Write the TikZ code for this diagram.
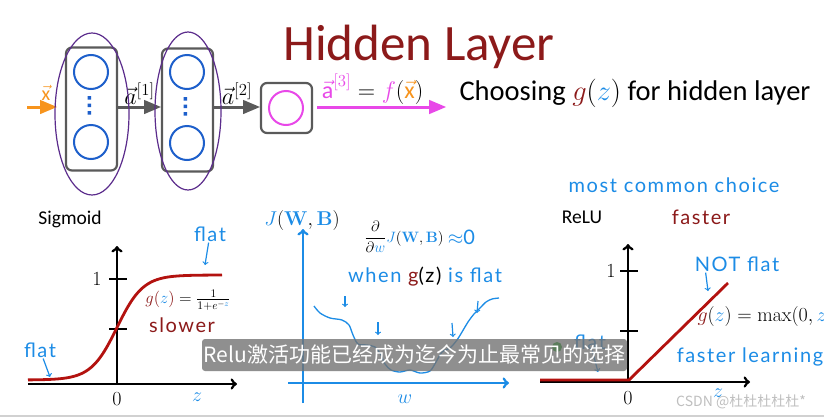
\RequirePackage{fix-cm}
\documentclass[tikz,border=0pt]{standalone}
\usepackage{amsmath}
\usepackage[no-math]{fontspec}
\setmainfont{Carlito}
\setsansfont{Carlito}
\newfontfamily\cjk{Noto Sans CJK SC}
\newfontfamily\handfont[LetterSpace=8]{Lato}
\usetikzlibrary{arrows, shapes, positioning}

\definecolor{titlered}{HTML}{8C1A1A}
\definecolor{inkblue}{HTML}{1C8CE6}
\definecolor{unitblue}{HTML}{1D5FCB}
\definecolor{boxgray}{HTML}{5A5A5A}
\definecolor{outpink}{HTML}{E848E8}
\definecolor{inorange}{HTML}{F7941D}
\definecolor{lassopurple}{HTML}{5B2C8C}
\definecolor{curvered}{HTML}{B3120F}

\tikzset{
	layerbox/.style={draw=boxgray, line width=2.2pt, rounded corners=6pt, minimum width=51pt, minimum height=123pt},
	neuron/.style={circle, draw=unitblue, line width=2pt, minimum size=34pt, inner sep=0pt},
	netarrow/.style={-triangle 45, draw=boxgray, line width=3pt},
	lassoline/.style={draw=lassopurple, line width=1.2pt},
	axisline/.style={->, line width=2.8pt},
	tickmark/.style={line width=2.8pt},
	redcurve/.style={draw=curvered, line width=2.8pt},
	handnote/.style={text=inkblue, font=\handfont\fontsize{20}{20}\selectfont, inner sep=1pt},
	pointer/.style={->, draw=inkblue, line width=1.2pt},
	scribble/.style={draw=inkblue, line width=1.3pt},
	mathlabel/.style={font=\fontsize{20}{20}\selectfont},
	veclabel/.style={font=\fontsize{24}{24}\selectfont, inner sep=1pt},
}

\begin{document}
\begin{tikzpicture}[x=1pt, y=-1pt]
		\useasboundingbox (0,0) rectangle (824,418);
		\clip (0,0) rectangle (824,418);
		\fill[white] (0,0) rectangle (824,418);
		\draw[black!18, line width=2pt] (0,416) -- (824,416);

		% title
		\node[anchor=base, text=titlered, font=\fontsize{51}{56}\selectfont, inner sep=0pt] (title) at (419,60) {Hidden Layer};
		\node[anchor=base west, font=\fontsize{28.5}{30}\selectfont] (choose) at (456,100)
			{Choosing $\textcolor{titlered}{g}(\textcolor{inkblue}{z})$ for hidden layer};

		% network
		\node[layerbox] (layer1) at (91.5,109) {};
		\node[layerbox] (layer2) at (187.5,110) {};
		\node[layerbox, minimum height=50pt] (layer3) at (286.5,108) {};
		\node[neuron] (n11) at (91,72) {};
		\node[neuron] (n12) at (91,142) {};
		\node[neuron] (n21) at (187,72) {};
		\node[neuron] (n22) at (187,143) {};
		\node[neuron, draw=outpink] (n31) at (286,108) {};
		\fill[unitblue] (87.5,96) rectangle +(3.5,3.5) (87.5,103.5) rectangle +(3.5,3.5) (87.5,111) rectangle +(3.5,3.5);
		\fill[unitblue] (183.5,97) rectangle +(3.5,3.5) (183.5,104.5) rectangle +(3.5,3.5) (183.5,112) rectangle +(3.5,3.5);
		\coordinate (xin) at (27,107);
		\coordinate (aout) at (446,107);
		\draw[netarrow, draw=inorange, shorten >=8pt] (xin) -- node[above=2pt, text=inorange, font=\fontsize{20}{20}\selectfont] {$\vec{\text{x}}$} (layer1.west |- xin);
		\draw[netarrow] (layer1.east |- xin) -- node[above, veclabel] {$\vec{a}^{[1]}$} (layer2.west |- xin);
		\draw[netarrow] (layer2.east |- xin) -- node[above, veclabel] {$\vec{a}^{[2]}$} (layer3.west |- xin);
		\draw[netarrow, draw=outpink, shorten <=4pt] (layer3.east |- xin) -- node[above, xshift=-7pt, veclabel]
			{$\textcolor{outpink}{\vec{\text{a}}^{[3]}} = \textcolor{outpink}{f}(\textcolor{inorange}{\vec{\text{x}}})$} (aout);
		\draw[lassoline] (92,114) ellipse (37 and 81);
		\draw[lassoline] (188,111) ellipse (33 and 79);

		% sigmoid
		\node[font=\fontsize{19.5}{20}\selectfont] (signame) at (70,219) {Sigmoid};
		\coordinate (sO) at (117,384);
		\coordinate (sL) at (28,384);
		\coordinate (sR) at (237,384);
		\coordinate (sT) at (117,246);
		\draw[axisline] (sL) -- (sR);
		\draw[axisline] (sO) -- (sT);
		\draw[tickmark] (109,279) -- (127,279);
		\draw[tickmark] (109,329) -- (127,329);
		\node[mathlabel] (sone) at (97,279) {$1$};
		\node[mathlabel] (szero) at (117,399) {$0$};
		\node[mathlabel, text=inkblue] (sz) at (197,397) {$z$};
		\draw[redcurve] plot[domain=28:222, samples=90, smooth] (\x, {380-105/(1+exp(-(\x-117)/13))});
		\node[font=\fontsize{16.5}{16.5}\selectfont] (sform) at (188,300)
			{$\textcolor{titlered}{g(}\textcolor{inkblue}{z}\textcolor{titlered}{)} = \frac{1}{1+e^{-\textcolor{inkblue}{z}}}$};
		\node[handnote, text=titlered] (slower) at (182,325) {slower};
		\node[handnote] (flatA) at (210,234) {flat};
		\coordinate (flatAtip) at (205,265);
		\draw[pointer] (flatA) -- (flatAtip);
		\node[handnote] (flatB) at (40,350) {flat};
		\coordinate (flatBtip) at (50,377);
		\draw[pointer] (flatB) -- (flatBtip);

		% cost surface
		\node[font=\fontsize{20}{20}\selectfont] (jname) at (302,220)
			{$\textcolor{inkblue}{J}(\textcolor{inkblue}{\mathbf{W}},\textcolor{inkblue}{\mathbf{B}})$};
		\coordinate (jB) at (303,403);
		\coordinate (jT) at (303,229);
		\coordinate (jL) at (288,383);
		\coordinate (jR) at (509,383);
		\draw[axisline, draw=inkblue] (jB) -- (jT);
		\draw[axisline, draw=inkblue] (jL) -- (jR);
		\node[mathlabel, text=inkblue] (wname) at (405,399) {$w$};
		\node[font=\fontsize{15}{15}\selectfont, inner sep=1pt] (dJ) at (404,237)
			{$\dfrac{\partial}{\partial \textcolor{inkblue}{w}}\textcolor{inkblue}{J}(\textcolor{inkblue}{\mathbf{W}},\textcolor{inkblue}{\mathbf{B}})$};
		\node[handnote, right=2pt of dJ] (approx) {$\approx$0};
		\node[handnote] (when) at (425,277) {when \textcolor{titlered}{g}\textcolor{black}{(z)} is flat};
		\draw[scribble] plot[smooth] coordinates {(314,306) (320,313) (330,318) (342,320) (349,325)
			(353,335) (358,344) (367,345) (375,347) (381,355) (385,364) (391,370) (400,372) (410,370)
			(420,373) (430,371) (436,362) (442,352) (450,348) (457,340) (462,332) (468,322) (474,314)
			(480,308) (486,302) (492,299) (499,298)};
		\coordinate (d1a) at (345,296);
		\coordinate (d1b) at (345,307);
		\coordinate (d2a) at (378,322);
		\coordinate (d2b) at (378,335);
		\coordinate (d3a) at (452,323);
		\coordinate (d3b) at (453,337);
		\coordinate (d4a) at (478,301);
		\coordinate (d4b) at (477,313);
		\draw[pointer] (d1a) -- (d1b);
		\draw[pointer] (d2a) -- (d2b);
		\draw[pointer] (d3a) -- (d3b);
		\draw[pointer] (d4a) -- (d4b);

		% relu
		\node[handnote] (common) at (674,185) {most common choice};
		\node[font=\fontsize{19.5}{20}\selectfont] (reluname) at (582,217) {ReLU};
		\node[handnote, text=titlered] (faster) at (701,217) {faster};
		\coordinate (rO) at (628,382);
		\coordinate (rL) at (540,382);
		\coordinate (rR) at (750,382);
		\coordinate (rT) at (628,244);
		\draw[axisline] (rL) -- (rR);
		\draw[axisline] (rO) -- (rT);
		\draw[tickmark] (620,271) -- (638,271);
		\draw[tickmark] (620,331) -- (638,331);
		\node[mathlabel] (rone) at (611,271) {$1$};
		\node[mathlabel] (rzero) at (628,398) {$0$};
		\node[mathlabel, text=inkblue] (rz) at (718,393) {$z$};
		\draw[redcurve] (540,380) -- (629,380) -- (728,283);
		\node[handnote] (notflat) at (737,264) {NOT flat};
		\coordinate (notflattip) at (708,291);
		\draw[pointer] (notflat.south west) ++(12,0) -- (notflattip);
		\node[anchor=west, font=\fontsize{20}{20}\selectfont] (rform) at (694,316)
			{$\textcolor{titlered}{g}(\textcolor{inkblue}{z}) = \max(0,\textcolor{inkblue}{z})$};
		\node[handnote] (learn) at (750,357) {faster learning};
		\node[handnote] (flatC) at (590,342) {flat};
		\coordinate (flatCtip) at (598,372);
		\draw[pointer] (flatC) -- (flatCtip);
		\fill[green!65!black] (557,347) circle (5);

		% subtitle and watermark
		\node[fill=black!55, fill opacity=0.8, text opacity=1, text=white, rounded corners=3pt,
			minimum width=425pt, minimum height=32pt, inner sep=0pt,
			font=\cjk\fontsize{21}{21}\selectfont] (subtitle) at (414.5,355) {Relu激活功能已经成为迄今为止最常见的选择};
		\node[text=black!25, font=\cjk\fontsize{14}{14}\selectfont] (csdn) at (741,402) {CSDN @杜杜杜杜杜*};
\end{tikzpicture}
\end{document}
